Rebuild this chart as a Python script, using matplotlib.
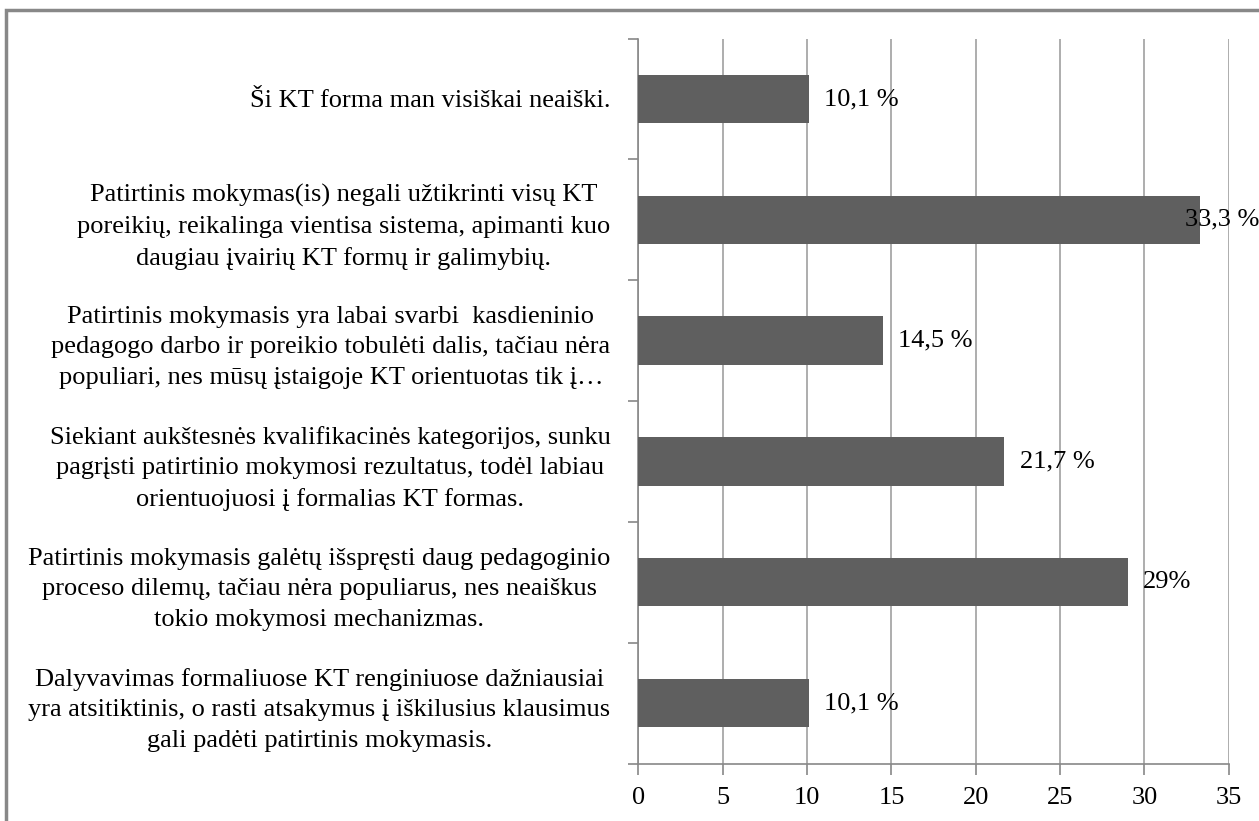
import matplotlib.pyplot as plt
from matplotlib.patches import Rectangle

# Kategorijos (iš apačios į viršų) ir procentai
kategorijos = [
    "Dalyvavimas formaliuose KT renginiuose dažniausiai\nyra atsitiktinis, o rasti atsakymus į iškilusius klausimus\ngali padėti patirtinis mokymasis.",
    "Patirtinis mokymasis galėtų išspręsti daug pedagoginio\nproceso dilemų, tačiau nėra populiarus, nes neaiškus\ntokio mokymosi mechanizmas.",
    "Siekiant aukštesnės kvalifikacinės kategorijos, sunku\npagrįsti patirtinio mokymosi rezultatus, todėl labiau\norientuojuosi į formalias KT formas.",
    "Patirtinis mokymasis yra labai svarbi  kasdieninio\npedagogo darbo ir poreikio tobulėti dalis, tačiau nėra\npopuliari, nes mūsų įstaigoje KT orientuotas tik į…",
    "Patirtinis mokymas(is) negali užtikrinti visų KT\nporeikių, reikalinga vientisa sistema, apimanti kuo\ndaugiau įvairių KT formų ir galimybių.",
    "Ši KT forma man visiškai neaiški.",
]
reiksmes = [10.1, 29, 21.7, 14.5, 33.3, 10.1]
zymes = ["10,1 %", "29%", "21,7 %", "14,5 %", "33,3 %", "10,1 %"]
x_ticks = [0, 5, 10, 15, 20, 25, 30, 35]

plt.rcParams["font.family"] = ["Liberation Serif", "DejaVu Serif"]
plt.rcParams["font.size"] = 19

fig = plt.figure(figsize=(12.59, 8.21), dpi=100)
ax = fig.add_axes([0.507, 0.07, 0.469, 0.883])

pos = range(len(kategorijos))
ax.barh(pos, reiksmes, height=0.4, color="#5f5f5f", zorder=3)

for i, (v, t) in enumerate(zip(reiksmes, zymes)):
    ax.text(min(v + 0.9, 32.4), i, t, va="center", ha="left", fontsize=19, zorder=4)

ax.set_xlim(0, 35)
ax.set_ylim(-0.5, len(kategorijos) - 0.5)
ax.set_xticks(x_ticks)
ax.set_yticks([p - 0.5 for p in range(len(kategorijos) + 1)], minor=False)
ax.set_yticklabels([])
ax.set_yticks(list(pos), minor=True)
ax.set_yticklabels(kategorijos, minor=True, multialignment="center", linespacing=1.5)
ax.tick_params(axis="y", which="minor", length=0, pad=20)
ax.tick_params(axis="y", which="major", length=7, color="#888888", width=1.2)
ax.tick_params(axis="x", length=8, color="#888888", width=1.2, pad=9)

ax.xaxis.grid(True, color="#a0a0a0", linewidth=1.2, zorder=0)
for s in ["top", "right"]:
    ax.spines[s].set_visible(False)
for s in ["left", "bottom"]:
    ax.spines[s].set_color("#888888")
    ax.spines[s].set_linewidth(1.2)

# rėmelis aplink diagramą
fig.patches.append(Rectangle((6 / 1259, -0.1), 1.2, 1.1 - 10 / 821,
                             transform=fig.transFigure, fill=False,
                             edgecolor="#888888", linewidth=2.5))

plt.savefig("out.png", dpi=100)
